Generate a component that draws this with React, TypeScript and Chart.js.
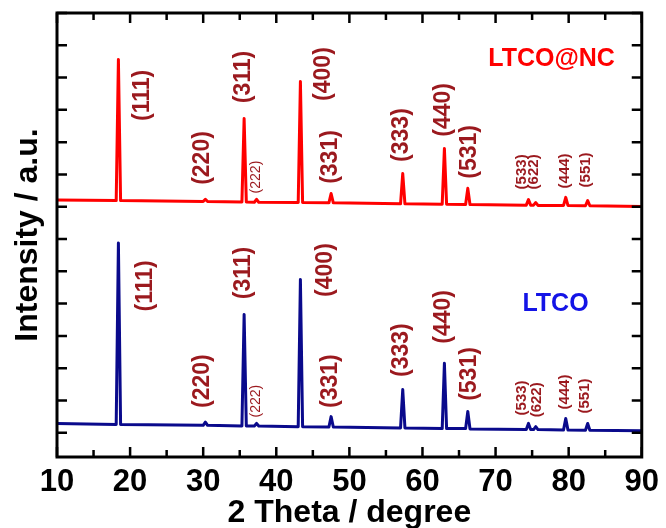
import React, { useEffect, useRef } from 'react';
import { Chart, registerables } from 'chart.js';

Chart.register(...registerables);

// 2θ positions (degrees) shared by both patterns
const twoTheta = [10, 18.1, 18.4, 18.7, 30.0, 30.3, 30.6, 35.3, 35.6, 35.9, 37.0, 37.3, 37.6, 43.0, 43.3, 43.6, 47.2, 47.5, 47.8, 57.0, 57.3, 57.6, 62.7, 63.0, 63.3, 65.9, 66.2, 66.5, 74.2, 74.5, 74.8, 75.2, 75.5, 75.8, 79.3, 79.6, 79.9, 82.3, 82.6, 82.9, 90];
// intensity (a.u., offset pattern)
const ltcoNC = [7.96, 7.94, 12.31, 7.94, 7.91, 7.98, 7.91, 7.90, 10.48, 7.90, 7.89, 7.98, 7.89, 7.88, 11.63, 7.88, 7.87, 8.16, 7.87, 7.84, 8.78, 7.84, 7.83, 9.55, 7.83, 7.82, 8.32, 7.82, 7.80, 7.97, 7.80, 7.80, 7.88, 7.79, 7.79, 8.04, 7.79, 7.78, 7.94, 7.78, 7.76];
const ltco = [1.04, 1.01, 6.63, 1.01, 0.98, 1.08, 0.98, 0.96, 4.41, 0.96, 0.96, 1.04, 0.96, 0.94, 5.50, 0.94, 0.93, 1.25, 0.93, 0.90, 2.09, 0.90, 0.88, 2.90, 0.88, 0.88, 1.41, 0.87, 0.85, 1.04, 0.85, 0.85, 0.94, 0.85, 0.84, 1.19, 0.84, 0.83, 1.04, 0.83, 0.81];

// Miller index annotations
const hkl = ['(111)', '(220)', '(311)', '(222)', '(400)', '(331)', '(333)', '(440)', '(531)', '(533)', '(622)', '(444)', '(551)'];
const ncLabelTheta = [21.66, 29.93, 35.49, 37.25, 46.47, 47.42, 57.19, 62.88, 66.41, 73.59, 75.22, 79.42, 82.41];
const ncLabelY = [11.20, 9.26, 11.77, 8.67, 11.86, 9.29, 9.97, 10.75, 9.45, 8.83, 8.83, 8.86, 8.89];
const ltcoLabelTheta = [22.07, 29.93, 35.49, 37.25, 46.75, 47.42, 57.19, 62.88, 66.41, 73.59, 75.63, 79.42, 82.27];
const ltcoLabelY = [5.30, 2.35, 5.70, 1.73, 5.79, 2.35, 3.31, 4.34, 2.57, 1.83, 1.77, 2.01, 1.89];

const sampleNames = ['LTCO@NC', 'LTCO'];
const sampleNameTheta = [77.66, 78.2];
const sampleNameY = [12.33, 4.74];

const xTicks = [10, 20, 30, 40, 50, 60, 70, 80, 90];
const intensityTicks = [0.75, 1.75, 2.75, 3.75, 4.75, 5.75, 6.75, 7.75, 8.75, 9.75, 10.75, 11.75, 12.75, 13.75];

const FONT = "'Liberation Sans', Arial, Helvetica, sans-serif";
const LABEL_COLOR = '#9B191E';
const SMALL_REGULAR = new Set(['(222)']);
const SMALL_BOLD = new Set(['(533)', '(622)', '(444)', '(551)']);

const decorPlugin = {
  id: 'decor',
  afterDatasetsDraw(chart: any) {
    const { ctx, chartArea: a, scales } = chart;
    const x = scales.x;
    const y = scales.y;
    ctx.save();

    const drawLabel = (text: string, tx: number, ty: number) => {
      let font = `bold 23px ${FONT}`;
      if (SMALL_REGULAR.has(text)) font = `14px ${FONT}`;
      else if (SMALL_BOLD.has(text)) font = `bold 15px ${FONT}`;
      ctx.save();
      ctx.translate(x.getPixelForValue(tx), y.getPixelForValue(ty));
      ctx.rotate(-Math.PI / 2);
      ctx.font = font;
      ctx.fillStyle = LABEL_COLOR;
      ctx.textAlign = 'center';
      ctx.textBaseline = 'middle';
      ctx.fillText(text, 0, 0);
      ctx.restore();
    };
    hkl.forEach((t, i) => drawLabel(t, ncLabelTheta[i], ncLabelY[i]));
    hkl.forEach((t, i) => drawLabel(t, ltcoLabelTheta[i], ltcoLabelY[i]));

    const nameColors = ['#FF0000', '#1414E6'];
    sampleNames.forEach((n, i) => {
      ctx.font = `bold 25px ${FONT}`;
      ctx.fillStyle = nameColors[i];
      ctx.textAlign = 'center';
      ctx.textBaseline = 'middle';
      ctx.fillText(n, x.getPixelForValue(sampleNameTheta[i]), y.getPixelForValue(sampleNameY[i]));
    });

    // inward tick marks
    ctx.strokeStyle = '#000';
    ctx.lineWidth = 2.5;
    ctx.lineCap = 'butt';
    const major = x.ticks.map((t: any) => t.value);
    major.forEach((v: number, i: number) => {
      const px = x.getPixelForValue(v);
      ctx.beginPath();
      ctx.moveTo(px, a.bottom); ctx.lineTo(px, a.bottom - 10);
      ctx.moveTo(px, a.top); ctx.lineTo(px, a.top + 10);
      ctx.stroke();
      if (i < major.length - 1) {
        const pm = x.getPixelForValue((v + major[i + 1]) / 2);
        ctx.beginPath();
        ctx.moveTo(pm, a.bottom); ctx.lineTo(pm, a.bottom - 7);
        ctx.moveTo(pm, a.top); ctx.lineTo(pm, a.top + 7);
        ctx.stroke();
      }
    });
    y.ticks.forEach((t: any) => {
      const py = y.getPixelForValue(t.value);
      ctx.beginPath();
      ctx.moveTo(a.left, py); ctx.lineTo(a.left + 10, py);
      ctx.moveTo(a.right, py); ctx.lineTo(a.right - 10, py);
      ctx.stroke();
    });

    ctx.lineWidth = 3;
    ctx.strokeRect(a.left, a.top, a.right - a.left, a.bottom - a.top);
    ctx.restore();
  },
};

export default function App() {
  const canvasRef = useRef<HTMLCanvasElement | null>(null);

  useEffect(() => {
    document.body.style.margin = '0';
    const canvas = canvasRef.current;
    if (!canvas) return;
    const chart = new Chart(canvas, {
      type: 'line',
      data: {
        datasets: [
          {
            label: 'LTCO@NC',
            data: twoTheta.map((t, i) => ({ x: t, y: ltcoNC[i] })),
            borderColor: '#FF0000',
            borderWidth: 3,
            pointRadius: 0,
            tension: 0,
            borderJoinStyle: 'round',
            fill: false,
          },
          {
            label: 'LTCO',
            data: twoTheta.map((t, i) => ({ x: t, y: ltco[i] })),
            borderColor: '#0A0A8C',
            borderWidth: 3,
            pointRadius: 0,
            tension: 0,
            borderJoinStyle: 'round',
            fill: false,
          },
        ],
      },
      options: {
        responsive: false,
        animation: false,
        devicePixelRatio: 1,
        layout: { padding: { top: 13, right: 19, left: 0, bottom: 0 } },
        plugins: {
          legend: { display: false },
          tooltip: { enabled: false },
        },
        scales: {
          x: {
            type: 'linear',
            min: 10,
            max: 90,
            afterBuildTicks: (s: any) => {
              s.ticks = xTicks.map((v) => ({ value: v }));
            },
            afterFit: (s: any) => {
              s.height = 71;
            },
            grid: { display: false, drawTicks: false },
            border: { display: false },
            ticks: {
              padding: 7,
              color: '#000',
              font: { family: FONT, size: 31, weight: 'bold' },
              maxRotation: 0,
              autoSkip: false,
            },
            title: {
              display: true,
              text: '2 Theta / degree',
              color: '#000',
              font: { family: FONT, size: 32, weight: 'bold' },
              padding: { top: 0, bottom: -4 },
            },
          },
          y: {
            type: 'linear',
            min: 0,
            max: 13.75,
            afterBuildTicks: (s: any) => {
              s.ticks = intensityTicks.map((v) => ({ value: v }));
            },
            afterFit: (s: any) => {
              s.width = 57;
            },
            grid: { display: false, drawTicks: false },
            border: { display: false },
            ticks: { display: false },
            title: {
              display: true,
              text: 'Intensity / a.u.',
              color: '#000',
              font: { family: FONT, size: 32, weight: 'bold' },
              padding: { top: 9, bottom: 0 },
            },
          },
        },
      },
      plugins: [decorPlugin],
    } as any);
    return () => chart.destroy();
  }, []);

  return (
    <div style={{ position: 'absolute', left: 0, top: 0, width: 666, height: 528, background: '#fff' }}>
      <canvas ref={canvasRef} width={666} height={528} style={{ width: 666, height: 528 }} />
    </div>
  );
}
